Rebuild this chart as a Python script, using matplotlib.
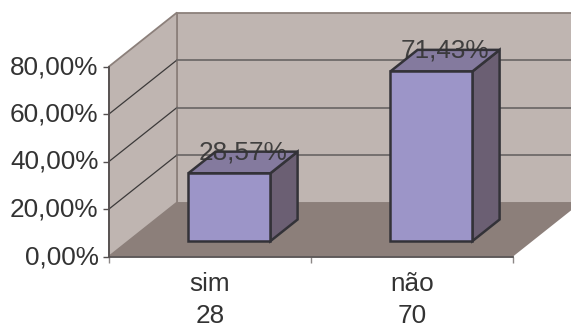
#!/usr/bin/env python3
"""Column chart with a fake 3D box: share of answers sim / nao."""
import matplotlib
matplotlib.use('Agg')
import matplotlib.pyplot as plt
from matplotlib.patches import Polygon
from matplotlib.transforms import ScaledTranslation

categories = ['sim', 'não']
counts = [28, 70]
percents = [28.57, 71.43]
y_ticks = [0, 20, 40, 60, 80]
y_tick_labels = ['0,00%', '20,00%', '40,00%', '60,00%', '80,00%']

W, H = 571, 326
LEFT, RIGHT, BOTTOM, TOP = 109, 513, 256.5, 66.5   # front plane, in pixels

# oblique offset of the full box depth, in data units
DX = 68 / ((RIGHT - LEFT) / 2)
DY = 54 / ((BOTTOM - TOP) / 80)
BAR_W = 0.406
D0, D1 = 0.285, 0.685

WALL = '#bfb5b1'
WALL_EDGE = '#8c807b'
FLOOR = '#8c7f7a'
GRID = '#6f6a69'
FRONT = '#9c95c8'
TOPC = '#847a9e'
SIDE = '#6b5f73'
EDGE = '#333238'
TEXT = '#333333'

plt.rcParams['font.family'] = ['Liberation Sans', 'DejaVu Sans']


def proj(x, y, d=0.0):
    return x + d * DX, y + d * DY


def face(ax, pts, color, edge='none', lw=0.0, z=1):
    ax.add_patch(Polygon([proj(*p) for p in pts], closed=True, facecolor=color,
                         edgecolor=edge, linewidth=lw, zorder=z, clip_on=False,
                         joinstyle='miter'))


fig = plt.figure(figsize=(W / 100, H / 100), dpi=100)
ax = fig.add_axes([LEFT / W, 1 - BOTTOM / H, (RIGHT - LEFT) / W, (BOTTOM - TOP) / H])
ax.set_xlim(0, 2)
ax.set_ylim(0, 80)
ax.patch.set_visible(False)
for s in ['top', 'right']:
    ax.spines[s].set_visible(False)
for s in ['left', 'bottom']:
    ax.spines[s].set_color('#555050')
    ax.spines[s].set_linewidth(1.3)
    ax.spines[s].set_zorder(3)

# walls and floor
face(ax, [(0, 0, 1), (2, 0, 1), (2, 80, 1), (0, 80, 1)], WALL, WALL_EDGE, 1.3)
face(ax, [(0, 0, 0), (0, 0, 1), (0, 80, 1), (0, 80, 0)], WALL, WALL_EDGE, 1.3)
face(ax, [(0, 0, 0), (2, 0, 0), (2, 0, 1), (0, 0, 1)], FLOOR, z=2)

for v in y_ticks[1:-1]:
    xs, ys = zip(proj(0, v, 0), proj(0, v, 1), proj(2, v, 1))
    ax.plot(xs[:2], ys[:2], color='#3c3a3a', lw=0.9, zorder=2, clip_on=False)
    ax.plot(xs[1:], ys[1:], color=GRID, lw=1.3, zorder=2, clip_on=False)

# bars
for i, (name, pct) in enumerate(zip(categories, percents)):
    x0 = i + 0.5 - BAR_W / 2
    x1 = i + 0.5 + BAR_W / 2
    face(ax, [(x1, 0, D0), (x1, 0, D1), (x1, pct, D1), (x1, pct, D0)], SIDE, EDGE, 1.8, z=4)
    face(ax, [(x0, pct, D0), (x1, pct, D0), (x1, pct, D1), (x0, pct, D1)], TOPC, EDGE, 1.8, z=4)
    face(ax, [(x0, 0, D0), (x1, 0, D0), (x1, pct, D0), (x0, pct, D0)], FRONT, EDGE, 1.8, z=5)
    tx, ty = proj(i + 0.5, pct, (D0 + D1) / 2)
    ax.annotate(f'{pct:.2f}%'.replace('.', ','), (tx, ty), xytext=(0, 3),
                textcoords='offset pixels', ha='center', va='baseline',
                fontsize=18.8, color=TEXT, alpha=0.9, zorder=6, annotation_clip=False)

ax.set_yticks(y_ticks)
ax.set_yticklabels(y_tick_labels, fontsize=18.8, color=TEXT)
ax.tick_params(axis='y', length=4.5, width=1.0, color='#555050', pad=3)
lift = ScaledTranslation(0, 2 / 100, fig.dpi_scale_trans)
for lab in ax.get_yticklabels():
    lab.set_transform(lab.get_transform() + lift)

# ticks between categories, labels centred under them
ax.set_xticks([0, 1, 2])
ax.set_xticklabels([])
ax.tick_params(axis='x', length=4.5, width=1.0, color='#8c8786')
ax.set_xticks([0.5, 1.5], minor=True)
ax.set_xticklabels([f'{c}\n{n}' for c, n in zip(categories, counts)], minor=True,
                   fontsize=18.8, color=TEXT, linespacing=1.4)
ax.tick_params(axis='x', which='minor', length=0, pad=11.5)

fig.savefig('out.png', dpi=100, facecolor='white')
plt.close(fig)
